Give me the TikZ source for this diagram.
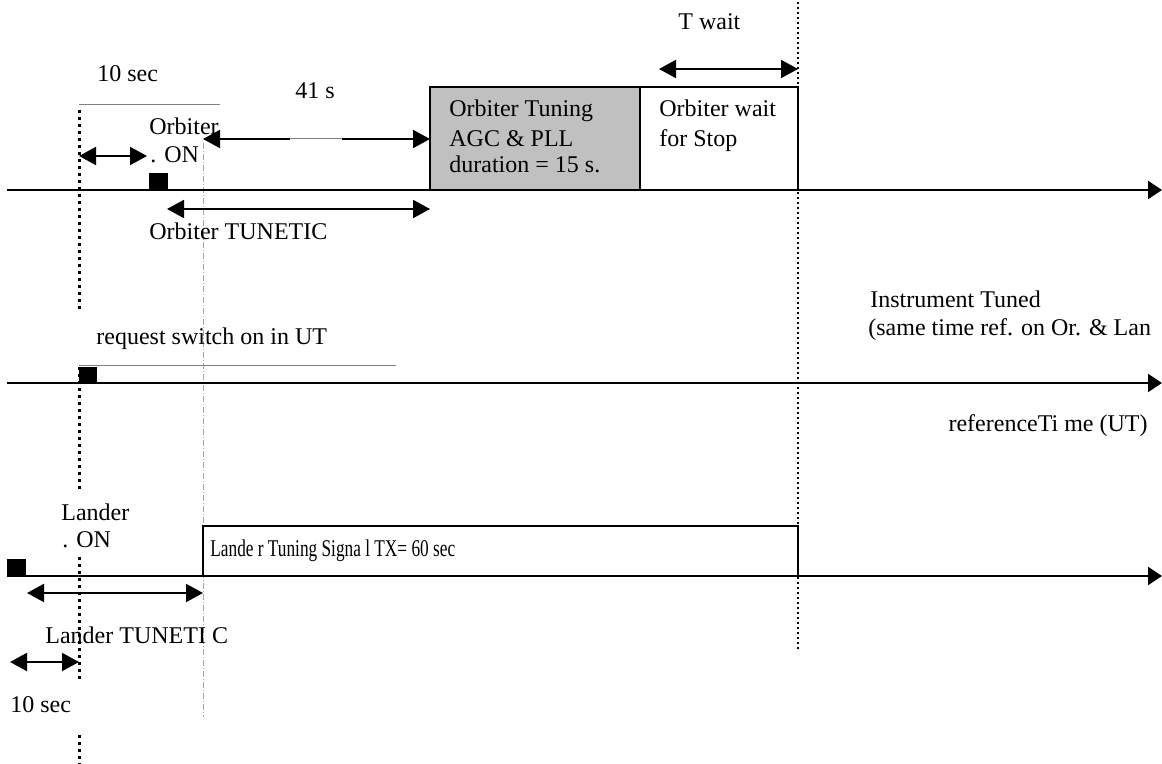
\documentclass[tikz,border=0pt]{standalone}
\usepackage{fontspec}
\setmainfont{Liberation Serif}
\usepackage{graphicx}
\usetikzlibrary{arrows.meta}

\definecolor{tunegray}{HTML}{C0C0C0}

\tikzset{
  axis/.style={line width=1pt, -{Triangle[length=7pt,width=9pt]}},
  span/.style={line width=1pt, {Triangle[length=8.5pt,width=9pt]}-{Triangle[length=8.5pt,width=9pt]}},
  guide/.style={line width=1.5pt, dash pattern=on 1.5pt off 2pt},
  waitguide/.style={line width=1.2pt, dash pattern=on 1pt off 1.5pt},
  faint/.style={gray!70, line width=0.4pt, dash pattern=on 3pt off 1pt on 0.5pt off 1pt},
  thin rule/.style={gray, line width=0.5pt},
  period/.style={draw, line width=1pt},
  lbl/.style={font=\fontsize{12}{14}\selectfont, inner sep=0pt, anchor=base west},
}

\begin{document}
\begin{tikzpicture}[x=0.5pt, y=-0.5pt]
  \useasboundingbox (0,0) rectangle (1162,764);

  % vertical guides
  \draw[guide] (79,110) -- (79,313);
  \draw[guide] (79,367) -- (79,490);
  \draw[guide] (79,557) -- (79,682);
  \draw[guide] (79,735) -- (79,764);
  \draw[faint] (203,143) -- (203,717);
  \draw[waitguide] (798,2) -- (798,650);
  \draw[thin rule] (79,105) -- (220,105);
  \draw[thin rule] (79,366) -- (396,366);

  % time axes
  \coordinate (orbA) at (7,190);  \coordinate (orbB) at (1162,190);
  \coordinate (utA) at (7,383);   \coordinate (utB) at (1162,383);
  \coordinate (lanA) at (7,576);  \coordinate (lanB) at (1162,576);
  \draw[axis] (orbA) -- (orbB);
  \draw[axis] (utA) -- (utB);
  \draw[axis] (lanA) -- (lanB);

  % periods
  \draw[period, fill=tunegray] (430,87) rectangle (640,190);
  \draw[period] (640,87) rectangle (798,190);
  \draw[period] (203,526) rectangle (798,576);

  % switch-on markers
  \fill (149,173) rectangle (168,190);
  \fill (79,367) rectangle (97,383);
  \fill (7,559) rectangle (26,576);

  % durations
  \coordinate (orbOnA) at (79,156);  \coordinate (orbOnB) at (147,156);
  \draw[span] (orbOnA) -- (orbOnB);
  \coordinate (waitA) at (203,139);  \coordinate (waitB) at (430,139);
  \coordinate (gapA) at (290,139);   \coordinate (gapB) at (342,139);
  \draw[line width=1pt, {Triangle[length=8.5pt,width=9pt]}-] (waitA) -- (gapA);
  \draw[thin rule] (gapA) -- (gapB);
  \draw[line width=1pt, -{Triangle[length=8.5pt,width=9pt]}] (gapB) -- (waitB);
  \coordinate (orbTuA) at (167,209); \coordinate (orbTuB) at (430,209);
  \draw[span] (orbTuA) -- (orbTuB);
  \coordinate (twA) at (659,69);     \coordinate (twB) at (798,69);
  \draw[span] (twA) -- (twB);
  \coordinate (lanTuA) at (27,593);  \coordinate (lanTuB) at (203,593);
  \draw[span] (lanTuA) -- (lanTuB);
  \coordinate (lanOnA) at (10,662);  \coordinate (lanOnB) at (79,662);
  \draw[span] (lanOnA) -- (lanOnB);

  % labels
  \node[lbl] (tenTop) at (97,82) {10 sec};
  \node[lbl] (fortyOne) at (295,99) {41 s};
  \node[lbl] (orbOn) at (149,135) {Orbiter};
  \node[lbl] (orbOnDot) at (150,163) {. ON};
  \node[lbl] (orbTune) at (149,240) {Orbiter TUNETIC};
  \node[lbl] (tWait) at (678,30) {T wait};
  \node[lbl] (tuningA) at (449,117) {Orbiter Tuning};
  \node[lbl] (tuningB) at (449,147) {AGC \& PLL};
  \node[lbl] (tuningC) at (449,173) {duration = 15 s.};
  \node[lbl] (stopA) at (659,117) {Orbiter wait};
  \node[lbl] (stopB) at (659,147) {for Stop};
  \node[lbl] (request) at (96,345) {request switch on in UT};
  \node[lbl] (instrA) at (870,308) {Instrument Tuned};
  \node[lbl] (instrB) at (868,336) {(same time ref. on Or. \& Lan};
  \node[lbl, anchor=base east] (refTime) at (1148,432) {referenceTi me (UT)};
  \node[lbl] (lanOn) at (61,520) {Lander};
  \node[lbl] (lanOnDot) at (62,547) {. ON};
  \node[lbl] (lanTune) at (45,643) {Lander TUNETI C};
  \node[lbl] (tenBot) at (10,712) {10 sec};
  \node[lbl] (lanSignal) at (210,556) {\scalebox{0.72}[1]{Lande r Tuning Signa l TX= 60 sec}};
\end{tikzpicture}
\end{document}
